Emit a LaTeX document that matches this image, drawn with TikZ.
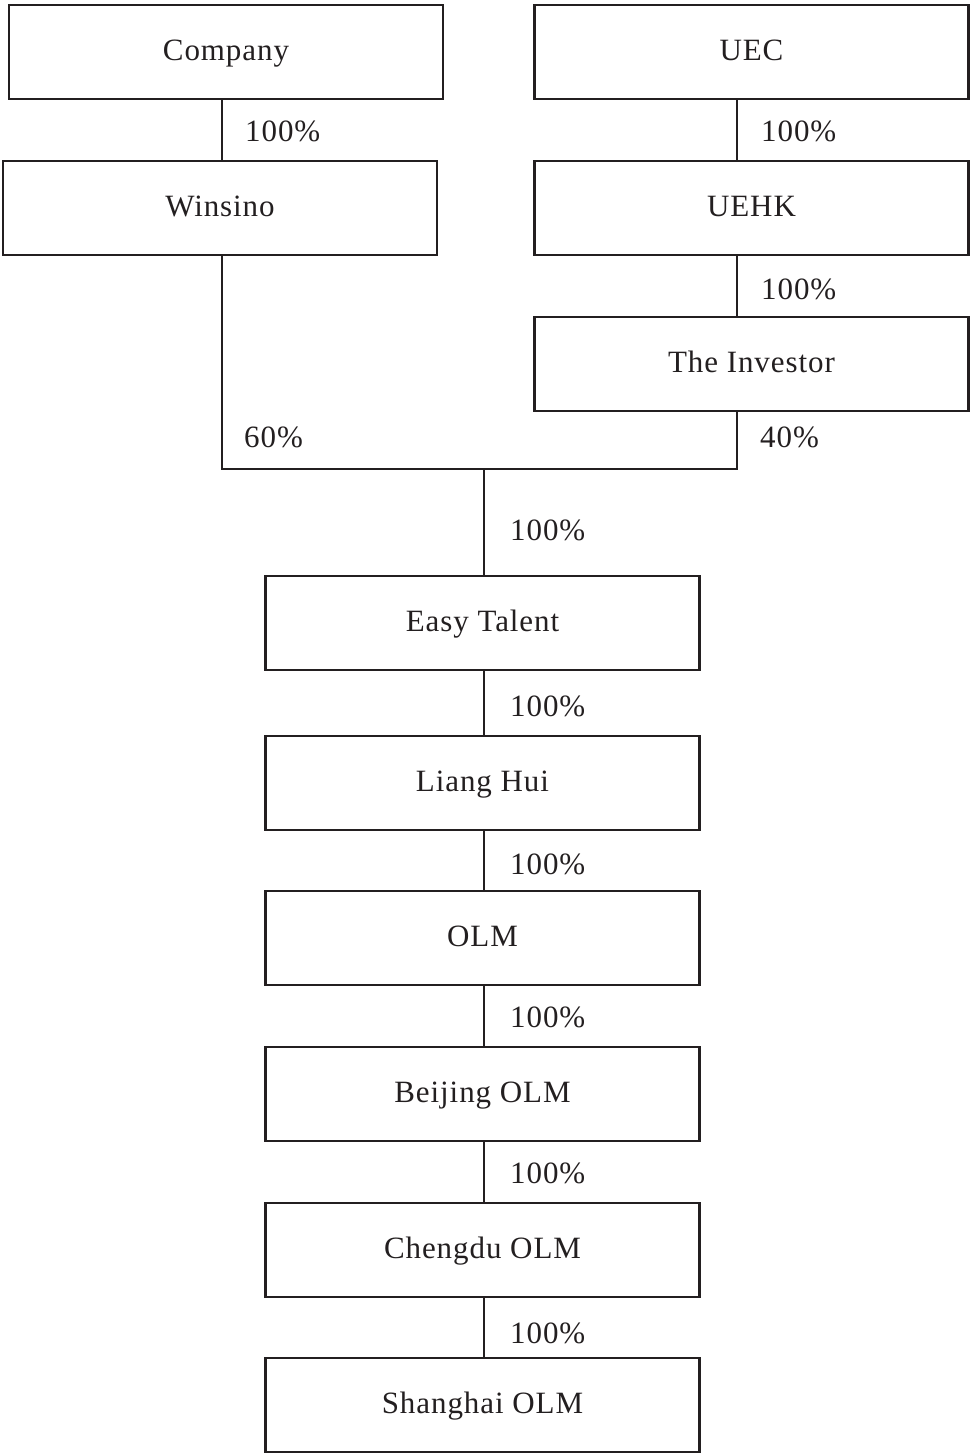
\documentclass[tikz,border=0pt]{standalone}
\usepackage{fontspec}
\setmainfont{Liberation Serif}[LetterSpace=3]
\definecolor{ink}{HTML}{231F20}
\begin{document}
\begin{tikzpicture}[x=1pt,y=-1pt,
  box/.style={draw=ink,line width=2.6pt,minimum width=434pt,minimum height=94pt,inner sep=0pt,text=ink,text height=21pt,text depth=5pt,font=\fontsize{31}{36}\selectfont},
  conn/.style={draw=ink,line width=2pt},
  pct/.style={anchor=west,inner sep=0pt,text=ink,font=\fontsize{31}{36}\selectfont}]
\useasboundingbox (0,0) rectangle (970,1454);
\node[box] (company) at (226,52) {Company};
\node[box] (uec) at (751.5,52) {UEC};
\node[box] (winsino) at (220,208) {Winsino};
\node[box] (uehk) at (751.5,208) {UEHK};
\node[box] (investor) at (751.5,364) {The Investor};
\node[box] (easy) at (482.5,623) {Easy Talent};
\node[box] (liang) at (482.5,783) {Liang Hui};
\node[box] (olm) at (482.5,938) {OLM};
\node[box] (beijing) at (482.5,1094) {Beijing OLM};
\node[box] (chengdu) at (482.5,1250) {Chengdu OLM};
\node[box] (shanghai) at (482.5,1405) {Shanghai OLM};
\coordinate (lx) at (222,0);
\coordinate (rx) at (737,0);
\coordinate (j) at (484,469);
\draw[conn] (company.south -| lx) -- (winsino.north -| lx);
\draw[conn] (uec.south -| rx) -- (uehk.north -| rx);
\draw[conn] (uehk.south -| rx) -- (investor.north -| rx);
\draw[conn] (winsino.south -| lx) |- (j) -| (investor.south -| rx);
\draw[conn] (j) -- (easy.north -| j);
\draw[conn] (easy.south -| j) -- (liang.north -| j);
\draw[conn] (liang.south -| j) -- (olm.north -| j);
\draw[conn] (olm.south -| j) -- (beijing.north -| j);
\draw[conn] (beijing.south -| j) -- (chengdu.north -| j);
\draw[conn] (chengdu.south -| j) -- (shanghai.north -| j);
\node[pct] (p1) at (245,131) {100\%};
\node[pct] (p2) at (761,131) {100\%};
\node[pct] (p3) at (761,289) {100\%};
\node[pct] (p4) at (244,437) {60\%};
\node[pct] (p5) at (760,437) {40\%};
\node[pct] (p6) at (510,530) {100\%};
\node[pct] (p7) at (510,706) {100\%};
\node[pct] (p8) at (510,864) {100\%};
\node[pct] (p9) at (510,1017) {100\%};
\node[pct] (p10) at (510,1173) {100\%};
\node[pct] (p11) at (510,1333) {100\%};
\end{tikzpicture}
\end{document}
